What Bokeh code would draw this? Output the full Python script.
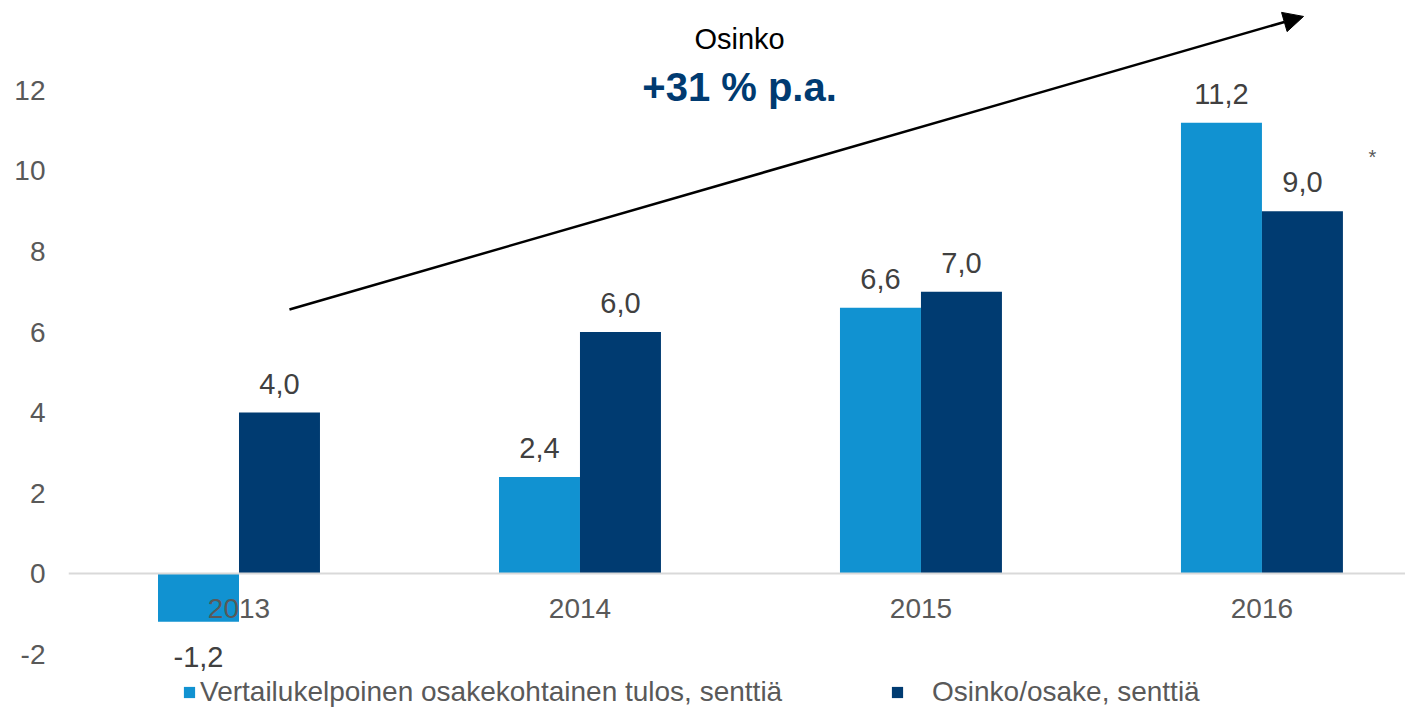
import numpy as np
from bokeh.plotting import figure
from bokeh.models import Range1d, FixedTicker, Span, Legend, LegendItem, Arrow, NormalHead, Label, ColumnDataSource
from bokeh.core.properties import value
from bokeh.embed import file_html
from bokeh.resources import INLINE

# ---- data ----
years = ["2013", "2014", "2015", "2016"]
eps = [-1.2, 2.4, 6.6, 11.2]          # Vertailukelpoinen osakekohtainen tulos, senttiä
dividend = [4.0, 6.0, 7.0, 9.0]        # Osinko/osake, senttiä
y_ticks = [-2, 0, 2, 4, 6, 8, 10, 12]
series_names = ["Vertailukelpoinen osakekohtainen tulos, senttiä", "Osinko/osake, senttiä"]
title_small = "Osinko"
title_big = "+31 % p.a."

FONT = "Liberation Sans"
LIGHT = "#1192D1"
DARK = "#003B71"
GREY = "#595959"
LABEL = "#404040"

def fmt(v):
    return f"{v:.1f}".replace(".", ",")

idx = np.arange(len(years))
centers = idx + 0.5
bw = 0.2375

p = figure(width=1405, height=708, output_backend="svg", toolbar_location=None,
           x_range=Range1d(0, 3.921), y_range=Range1d(-3.354, 14.236),
           x_axis_location=None,
           min_border_left=68, min_border_right=0, min_border_top=0, min_border_bottom=0)
p.grid.visible = False
p.outline_line_color = None

ya = p.yaxis[0]
ya.ticker = FixedTicker(ticks=y_ticks)
ya.major_label_overrides = {t: str(t) for t in y_ticks}
ya.axis_line_color = None
ya.major_tick_line_color = None
ya.minor_tick_line_color = None
ya.major_tick_out = 0
ya.major_label_standoff = 23
ya.major_label_text_font = FONT
ya.major_label_text_font_size = "28px"
ya.major_label_text_color = GREY

src = ColumnDataSource(dict(xl=centers - bw / 2, xd=centers + bw / 2, eps=eps, div=dividend,
                            eps_t=[fmt(v) for v in eps], div_t=[fmt(v) for v in dividend],
                            xc=centers, years=years, zero=[0] * len(years)))

r_light = p.vbar(x="xl", top="eps", width=bw, source=src, fill_color=LIGHT, line_color=None)
r_dark = p.vbar(x="xd", top="div", width=bw, source=src, fill_color=DARK, line_color=None)

p.add_layout(Span(location=0, dimension="width", line_color="#D9D9D9", line_width=2))

# year labels along the zero line
p.text(x="xc", y="zero", text="years", source=src, text_align="center", text_baseline="alphabetic",
       y_offset=35, text_font=value(FONT), text_font_size="28px", text_color=GREY)

# data labels
pos_e = [i for i, v in enumerate(eps) if v >= 0]
neg_e = [i for i, v in enumerate(eps) if v < 0]
src_pe = ColumnDataSource(dict(x=[src.data["xl"][i] for i in pos_e], y=[eps[i] for i in pos_e],
                               t=[fmt(eps[i]) for i in pos_e]))
src_ne = ColumnDataSource(dict(x=[src.data["xl"][i] for i in neg_e], y=[eps[i] for i in neg_e],
                               t=[fmt(eps[i]) for i in neg_e]))
common = dict(text_align="center", text_font=value(FONT), text_font_size="29px", text_color=LABEL)
p.text(x="x", y="y", text="t", source=src_pe, text_baseline="alphabetic", y_offset=-29, **common)
p.text(x="x", y="y", text="t", source=src_ne, text_baseline="alphabetic", y_offset=35, **common)
p.text(x="xd", y="div", text="div_t", source=src, text_baseline="alphabetic", y_offset=-29, **common)

# asterisk
p.add_layout(Label(x=3.824, y=10.36, text="*", text_align="center", text_baseline="alphabetic",
                   text_font=FONT, text_font_size="20px", text_color=GREY))

# arrow + annotation
p.add_layout(Arrow(end=NormalHead(size=20, fill_color="black", line_color="black"),
                   x_start=0.648, y_start=6.56, x_end=3.622, y_end=13.84,
                   line_color="black", line_width=2.5))
p.add_layout(Label(x=1.968, y=13.27, text=title_small, text_align="center", text_baseline="alphabetic",
                   text_font=FONT, text_font_size="29px", text_color="black"))
p.add_layout(Label(x=1.968, y=12.08, text=title_big, text_align="center", text_baseline="alphabetic",
                   text_font=FONT, text_font_size="40px", text_font_style="bold", text_color=DARK))

# legends
def make_legend(label, r, loc, standoff):
    lg = Legend(items=[LegendItem(label=label, renderers=[r])], location=loc,
                orientation="horizontal", padding=0, margin=0, spacing=0,
                glyph_width=14, glyph_height=14, label_standoff=standoff,
                border_line_alpha=0, background_fill_alpha=0,
                label_text_font=FONT, label_text_font_size="28px", label_text_color=GREY)
    return lg

p.add_layout(make_legend(series_names[0], r_light, (114, 0), 4))
p.add_layout(make_legend(series_names[1], r_dark, (822, 0), 28))

open("out.html", "w").write(file_html(p, INLINE))
